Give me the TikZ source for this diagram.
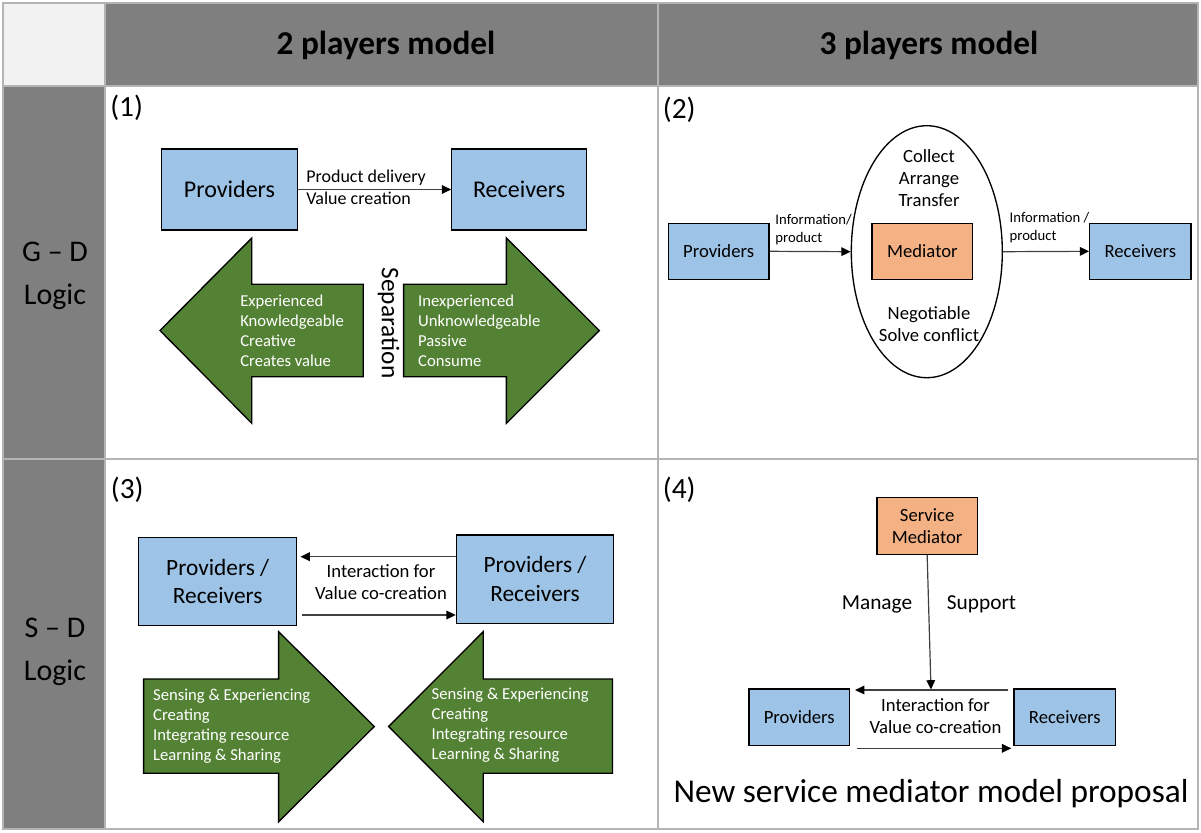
\documentclass[tikz,border=0pt]{standalone}
\usepackage{fontspec}
\setmainfont{Carlito}
\usetikzlibrary{arrows.meta,shapes.geometric}
\definecolor{hdr}{HTML}{7F7F7F}
\definecolor{corner}{HTML}{F2F2F2}
\definecolor{gridc}{HTML}{B4B4B4}
\definecolor{boxblue}{HTML}{9DC3E6}
\definecolor{boxorange}{HTML}{F4B183}
\definecolor{arrgreen}{HTML}{548235}
\def\pxu{0.75pt}
\newcommand\fs[2]{\fontsize{#1}{#2}\selectfont}

\begin{document}
\begin{tikzpicture}[x=0.75pt,y=-0.75pt,
  box/.style={draw=black, line width=1pt, inner sep=0pt, align=center},
  blue box/.style={box, fill=boxblue},
  orange box/.style={box, fill=boxorange},
  sz/.style 2 args={minimum width=#1*\pxu, minimum height=#2*\pxu},
  link/.style={draw=black!75, line width=0.9pt, -{Triangle[length=7pt,width=6.5pt,color=black]}},
  bigarrow/.style={draw=black, line width=1pt, fill=arrgreen},
  arrtext/.style={text=white, align=left, inner sep=0pt, anchor=west, font=\fs{12.5}{15}},
  lbl/.style={inner sep=0pt, align=center},
  tag/.style={inner sep=0pt, anchor=west, font=\fs{22}{26}},
]
\useasboundingbox (0,0) rectangle (1201,832);
\fill[white] (0,0) rectangle (1201,832);

% table frame
\fill[hdr] (105,3) rectangle (1198,86);
\fill[corner] (3,3) rectangle (105,86);
\fill[hdr] (3,86) rectangle (105,829);
\draw[gridc, line width=1.5pt] (3,3) rectangle (1198,829)
  (105,3) -- (105,829) (658,3) -- (658,829)
  (3,86) -- (1198,86) (3,459) -- (1198,459);

% headers
\node[lbl, font=\bfseries\fs{25}{30}] (h2) at (386,45) {2 players model};
\node[lbl, font=\bfseries\fs{25}{30}] (h3) at (929,45) {3 players model};
\node[lbl, font=\fs{22.5}{32}] (rgd) at (55,276) {G – D\\Logic};
\node[lbl, font=\fs{22.5}{32}] (rsd) at (55,652) {S – D\\Logic};

% (1) two players, G-D logic
\node[tag] (n1) at (110,108) {(1)};
\node[blue box, sz={136.1}{81}, font=\fs{18}{22}] (p1prov) at (229.45,189.5) {Providers};
\node[blue box, sz={134.6}{81}, font=\fs{18}{22}] (p1rec) at (519.1,189.5) {Receivers};
\draw[link] (p1prov.east) -- (p1rec.west);
\node[inner sep=0pt, anchor=west, align=left, font=\fs{13.5}{16.5}] (p1lab) at (306,187) {Product delivery\\Value creation};
\draw[bigarrow] (160,330.5) -- (251.8,238) -- (251.8,284.3) -- (363.2,284.3)
  -- (363.2,376.7) -- (251.8,376.7) -- (251.8,423.3) -- cycle;
\draw[bigarrow] (599.3,330.5) -- (506.4,238) -- (506.4,284.3) -- (403.6,284.3)
  -- (403.6,376.7) -- (506.4,376.7) -- (506.4,423.3) -- cycle;
\node[arrtext] (p1tl) at (240,331) {Experienced\\Knowledgeable\\Creative\\Creates value};
\node[arrtext] (p1tr) at (417.9,331) {Inexperienced\\Unknowledgeable\\Passive\\Consume};
\node[lbl, rotate=-90, font=\fs{19}{23}] (sep) at (388.6,323) {Separation};

% (2) three players, G-D logic
\node[tag] (n2) at (662.7,110) {(2)};
\node[blue box, sz={100.8}{56}, font=\fs{14}{17}] (p2prov) at (718.6,251.3) {Providers};
\node[draw=black, line width=1pt, ellipse, inner sep=0pt, fill=white,
  minimum width=151*\pxu, minimum height=252*\pxu] (p2ell) at (926.8,251.7) {};
\node[orange box, sz={100.8}{56}, font=\fs{14}{17}] (p2med) at (922.4,251.3) {Mediator};
\node[blue box, sz={101.1}{56}, font=\fs{14}{17}] (p2rec) at (1140.35,251.3) {Receivers};
\draw[link] (p2prov.east) -- (p2ell.west);
\draw[link] (p2ell.east) -- (p2rec.west);
\node[inner sep=0pt, anchor=west, align=left, font=\fs{11}{13.2}] (p2la) at (775.2,229.5) {Information/\\product};
\node[inner sep=0pt, anchor=west, align=left, font=\fs{11}{13.2}] (p2lb) at (1009.4,227.7) {Information /\\product};
\node[lbl, font=\fs{14}{16.7}] (p2top) at (929,178) {Collect\\Arrange\\Transfer};
\node[lbl, font=\fs{14}{16.7}] (p2bot) at (929,324) {Negotiable\\Solve conflict};

% (3) two players, S-D logic
\node[tag] (n3) at (110.7,489.3) {(3)};
\node[blue box, sz={158.2}{88}, font=\fs{17.5}{21.3}] (p3l) at (217.7,581.7) {Providers /\\Receivers};
\node[blue box, sz={157.2}{88.3}, font=\fs{17.5}{21.3}] (p3r) at (535,579.15) {Providers /\\Receivers};
\coordinate (p3ya) at (0,556.7);
\coordinate (p3yb) at (0,615);
\draw[link, shorten >=2.25pt] (p3r.west |- p3ya) -- (p3l.east |- p3ya);
\draw[link, shorten <=3.75pt] (p3l.east |- p3yb) -- (p3r.west |- p3yb);
\node[lbl, font=\fs{14}{16.3}] (p3lab) at (381,581.8) {Interaction for\\Value co-creation};
\draw[bigarrow] (143.6,679) -- (278.6,679) -- (278.6,631.7) -- (374.3,726.5)
  -- (278.6,821.7) -- (278.6,773.3) -- (143.6,773.3) -- cycle;
\draw[bigarrow] (612.5,679) -- (483.2,679) -- (483.2,631.7) -- (388.6,726.5)
  -- (483.2,821.7) -- (483.2,773.3) -- (612.5,773.3) -- cycle;
\node[arrtext] (p3tl) at (152.9,726) {Sensing \& Experiencing\\Creating\\Integrating resource\\Learning \& Sharing};
\node[arrtext] (p3tr) at (431.4,725.5) {Sensing \& Experiencing\\Creating\\Integrating resource\\Learning \& Sharing};

% (4) three players, S-D logic
\node[tag] (n4) at (662.7,490) {(4)};
\node[orange box, sz={100.3}{56.6}, font=\fs{14}{16.7}] (p4med) at (927.15,526) {Service\\Mediator};
\node[blue box, sz={100.4}{56.7}, font=\fs{14}{17}] (p4prov) at (799.2,717.35) {Providers};
\node[blue box, sz={101.7}{56.7}, font=\fs{14}{17}] (p4rec) at (1064.75,717.35) {Receivers};
\coordinate (p4hit) at (931,689.5);
\draw[link] (p4med.south) -- (p4hit);
\coordinate (p4ya) at (0,690);
\coordinate (p4yb) at (0,748.3);
\draw[link, shorten <=3.75pt, shorten >=3.75pt] (p4rec.west |- p4ya) -- (p4prov.east |- p4ya);
\draw[link, shorten <=5pt, shorten >=1.5pt] (p4prov.east |- p4yb) -- (p4rec.west |- p4yb);
\node[lbl, font=\fs{14}{16.3}] (p4lab) at (935.5,716) {Interaction for\\Value co-creation};
\node[lbl, font=\fs{16}{19}] (p4man) at (877,604) {Manage};
\node[lbl, font=\fs{16}{19}] (p4sup) at (981.5,604) {Support};
\node[lbl, font=\fs{25}{30}] (p4title) at (931,793.3) {New service mediator model proposal};
\end{tikzpicture}
\end{document}
